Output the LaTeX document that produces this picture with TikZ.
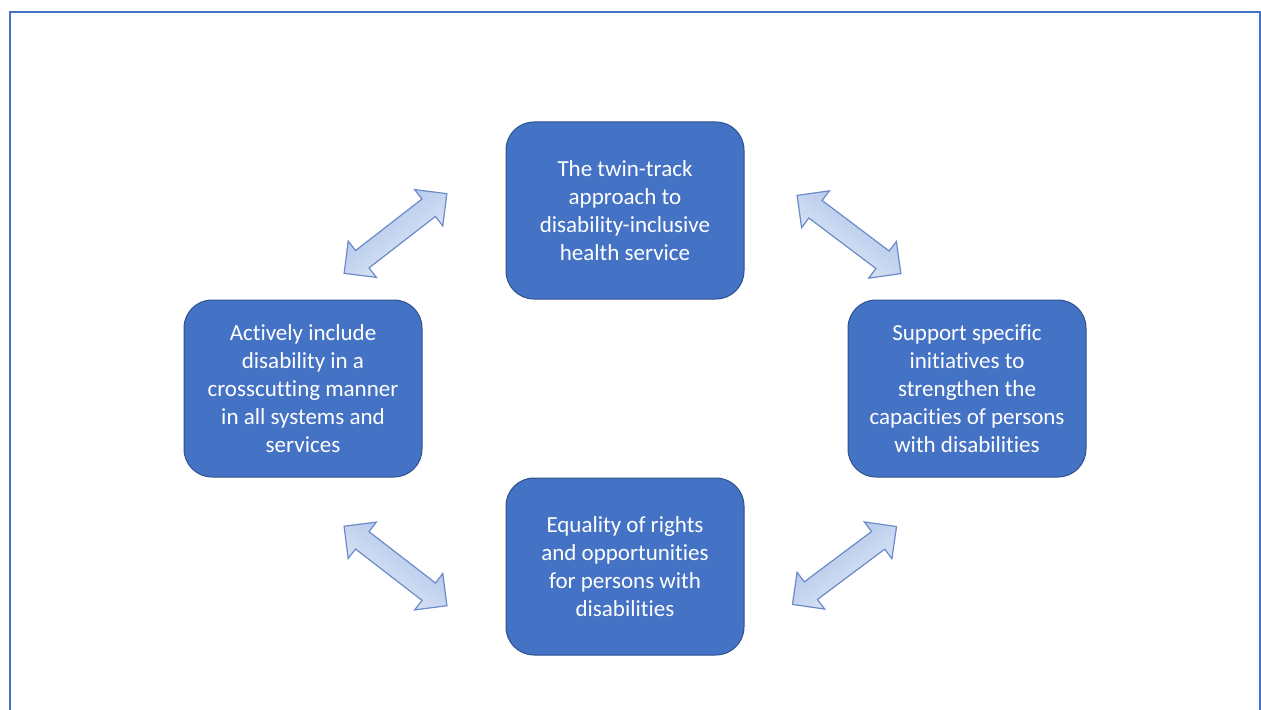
\documentclass[tikz,border=0pt]{standalone}
\usepackage{fontspec}
\setmainfont[RawFeature={-liga;-clig;-calt;-rlig;-dlig}]{Carlito}
\usepackage{tikz}
\usetikzlibrary{calc}
\usetikzlibrary{positioning}

\definecolor{boxblue}{HTML}{4472C4}
\definecolor{boxedge}{HTML}{2F528F}
\definecolor{arrowedge}{HTML}{6A8BC7}
\definecolor{arrowdark}{HTML}{A7BFE8}
\definecolor{arrowlight}{HTML}{E6EDF8}

\tikzset{
    idea/.style={draw=boxedge, line width=0.75pt, fill=boxblue, rounded corners=21pt,
        minimum width=178.5pt, minimum height=132.75pt, align=center, text=white,
        font=\fontsize{17.25pt}{21pt}\selectfont},
    twoway/.style={draw=arrowedge, line width=0.9pt, line join=miter}
}

% block arrow with a head at each end: centre, angle
\newcommand{\bothways}[2]{%
    \begin{scope}[shift={#1}, rotate=#2]
        \draw [twoway, top color=arrowdark, bottom color=arrowlight, shading angle=#2]
            (-65,0) -- (-42,23) -- (-42,11) -- (42,11) -- (42,23) -- (65,0)
            -- (42,-23) -- (42,-11) -- (-42,-11) -- (-42,-23) -- cycle;
    \end{scope}}

\begin{document}
\begin{tikzpicture}[x=0.75pt, y=-0.75pt]
    \useasboundingbox (0,0) rectangle (1261,710);
    \draw [boxblue, line width=1.5pt] (10,712) -- (10,12.5) -- (1259.5,12.5) -- (1259.5,712);

    \node [idea] (twin) at (625,210.5) {The twin-track\\approach to\\disability-inclusive\\health service};
    \node [idea] (crosscut) at (303,388.5) {Actively include\\disability in a\\crosscutting manner\\in all systems and\\services};
    \node [idea] (specific) at (967,388.5) {Support specific\\initiatives to\\strengthen the\\capacities of persons\\with disabilities};
    \node [idea] (equality) at (625,566.5) {Equality of rights\\and opportunities\\for persons with\\disabilities};

    \bothways{(395.5,233.5)}{37.8}
    \bothways{(849,234.5)}{-37}
    \bothways{(395.5,566)}{-37.7}
    \bothways{(844.5,565.5)}{36.8}
\end{tikzpicture}
\end{document}
